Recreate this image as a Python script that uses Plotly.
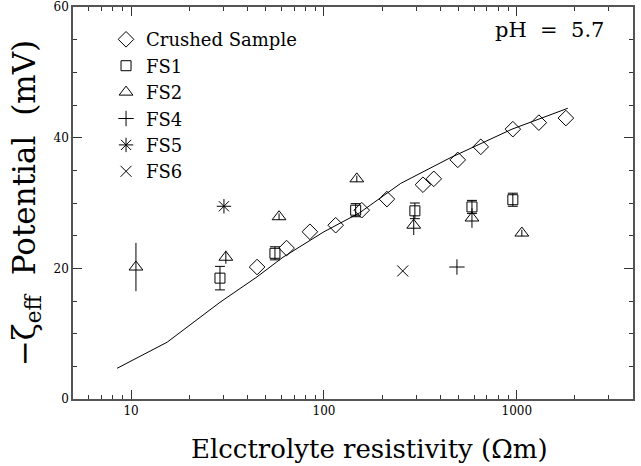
import plotly.graph_objects as go

# ---- data ----
crushed_x = [45, 64, 84.5, 115, 157, 212, 326, 371, 494, 650, 953, 1300, 1795]
crushed_y = [20.2, 23.1, 25.6, 26.6, 28.9, 30.6, 32.8, 33.7, 36.6, 38.6, 41.3, 42.3, 43.0]

fs1_x = [28.9, 55.7, 146, 296, 585, 953]
fs1_y = [18.5, 22.3, 28.9, 28.8, 29.4, 30.5]
fs1_err = [1.8, 1.0, 1.0, 1.2, 1.0, 1.0]

fs2_x = [10.6, 31.0, 58.5, 148, 292, 585, 1061]
fs2_y = [20.2, 21.7, 27.9, 33.7, 26.6, 27.7, 25.4]
fs2_err = [3.7, 1.0, 0.5, 0.5, 1.5, 1.5, 0.5]

fs4_x = [489]
fs4_y = [20.2]

fs5_x = [30.3]
fs5_y = [29.5]

fs6_x = [256]
fs6_y = [19.6]

model_x = [8.46, 15.4, 28.9, 45, 61.3, 100, 153, 250, 450, 943, 1837]
model_y = [4.7, 8.7, 14.8, 18.7, 21.7, 25.6, 28.5, 33.0, 36.9, 41.3, 44.5]

x_major = [10, 100, 1000]
x_major_text = ["10", "100", "1000"]
x_minor = [6, 7, 8, 9, 20, 30, 40, 50, 60, 70, 80, 90,
           200, 300, 400, 500, 600, 700, 800, 900, 2000, 3000]
y_major = [0, 20, 40, 60]
y_minor = [5, 10, 15, 25, 30, 35, 45, 50, 55]

FONT = "DejaVu Serif"
INK = "black"

fig = go.Figure()

fig.add_trace(go.Scatter(x=model_x, y=model_y, mode="lines",
                         line=dict(color=INK, width=1), showlegend=False))

fig.add_trace(go.Scatter(x=crushed_x, y=crushed_y, mode="markers", name="Crushed Sample",
                         marker=dict(symbol="diamond-open", size=12, color=INK,
                                     line=dict(width=1, color=INK))))
fig.add_trace(go.Scatter(x=fs1_x, y=fs1_y, mode="markers", name="FS1",
                         marker=dict(symbol="square-open", size=10, color=INK,
                                     line=dict(width=1, color=INK)),
                         error_y=dict(type="data", array=fs1_err, color=INK,
                                      thickness=1, width=5)))
fig.add_trace(go.Scatter(x=fs2_x, y=fs2_y, mode="markers", name="FS2",
                         marker=dict(symbol="triangle-up-open", size=12, color=INK,
                                     line=dict(width=1, color=INK)),
                         error_y=dict(type="data", array=fs2_err, color=INK,
                                      thickness=1, width=0)))
fig.add_trace(go.Scatter(x=fs4_x, y=fs4_y, mode="markers", name="FS4",
                         marker=dict(symbol="cross-thin", size=11, color=INK,
                                     line=dict(width=1, color=INK))))
fig.add_trace(go.Scatter(x=fs5_x, y=fs5_y, mode="markers", name="FS5",
                         marker=dict(symbol="asterisk", size=12, color=INK,
                                     line=dict(width=1, color=INK))))
fig.add_trace(go.Scatter(x=fs6_x, y=fs6_y, mode="markers", name="FS6",
                         marker=dict(symbol="x-thin", size=11, color=INK,
                                     line=dict(width=1, color=INK))))

fig.update_layout(
    width=641, height=466,
    margin=dict(l=73, r=8, t=7, b=67, autoexpand=False),
    paper_bgcolor="white", plot_bgcolor="white",
    font=dict(family=FONT, color=INK),
    showlegend=True,
    legend=dict(x=0.059, y=0.964, xanchor="left", yanchor="top",
                bgcolor="rgba(0,0,0,0)", font=dict(size=18, family=FONT),
                itemsizing="trace", tracegroupgap=0),
    annotations=[
        dict(text="pH  =  5.7", xref="paper", yref="paper",
             x=0.952, y=0.978, xanchor="right", yanchor="top",
             showarrow=False, font=dict(size=21, family=FONT)),
        dict(text="Elcctrolyte resistivity (Ωm)", xref="paper", yref="paper",
             x=0.53, y=-0.128, xanchor="center", yanchor="middle",
             showarrow=False, font=dict(size=26, family=FONT)),
    ],
)

fig.update_xaxes(
    type="log", range=[0.699, 3.602], automargin=False,
    tickmode="array", tickvals=x_major, ticktext=x_major_text,
    ticks="inside", ticklen=9, tickwidth=1, tickcolor="#333",
    minor=dict(tickmode="array", tickvals=x_minor, ticks="inside",
               ticklen=4, tickwidth=1, tickcolor="#333"),
    showline=True, linecolor="#555", linewidth=1.5, mirror="ticks",
    showgrid=False, zeroline=False,
    tickfont=dict(size=12, family=FONT),
)
fig.update_yaxes(
    range=[0, 60], automargin=False,
    tickmode="array", tickvals=y_major,
    ticks="inside", ticklen=9, tickwidth=1, tickcolor="#333",
    minor=dict(tickmode="array", tickvals=y_minor, ticks="inside",
               ticklen=4, tickwidth=1, tickcolor="#333"),
    showline=True, linecolor="#555", linewidth=1.5, mirror="ticks",
    showgrid=False, zeroline=False,
    tickfont=dict(size=12, family=FONT), ticklabeloverflow="allow",
    title=dict(text="−ζ<sub>eff</sub>\u00a0 Potential\u00a0 (mV)", font=dict(size=31, family=FONT),
               standoff=9),
)

# remove the browser's default 8px body margin so the figure sits at the page origin
fig.write_html("out.html", config={"displayModeBar": False},
               post_script="document.body.style.margin='0';")
